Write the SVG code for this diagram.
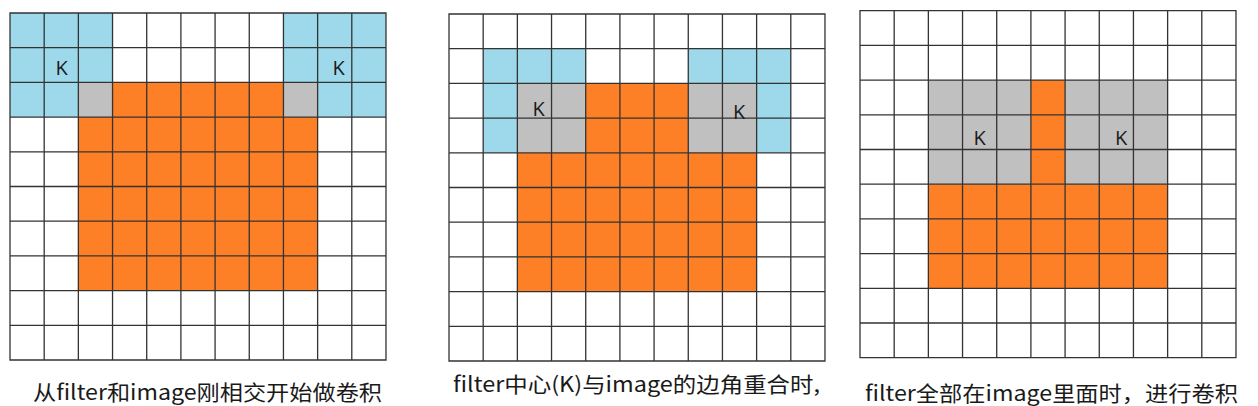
<svg xmlns="http://www.w3.org/2000/svg" xmlns:xlink="http://www.w3.org/1999/xlink" width="1258" height="406" viewBox="0 0 1258 406">
<style>
.b{fill:#9dd9ea}
.g{fill:#c0c0c0}
.o{fill:#fe8026}
.grid{fill:none;stroke:#333333;stroke-width:1.3}
.k{font-family:"Open Sans","Liberation Sans",sans-serif;font-size:20px;fill:#1a1a1a;text-anchor:middle}
.cap{font-family:"Noto Sans CJK SC","Noto Sans",sans-serif;font-size:21px;fill:#1a1a1a}
</style>
<defs>
<path id="gridlines" class="grid" d="M0,0H375.98V347H0Z
M34.18,0V347M68.36,0V347M102.54,0V347M136.72,0V347M170.9,0V347M205.08,0V347M239.26,0V347M273.44,0V347M307.62,0V347M341.8,0V347
M0,34.7H375.98M0,69.4H375.98M0,104.1H375.98M0,138.8H375.98M0,173.5H375.98M0,208.2H375.98M0,242.9H375.98M0,277.6H375.98M0,312.3H375.98"/>
</defs>
<rect width="1258" height="406" fill="#ffffff"/>

<g id="panel1" transform="translate(10,13)">
<rect x="0" y="0" width="375.98" height="347" fill="#ffffff"/>
<rect class="b" x="0" y="0" width="102.54" height="69.4"/>
<rect class="b" x="0" y="69.4" width="68.36" height="34.7"/>
<rect class="b" x="273.44" y="0" width="102.54" height="69.4"/>
<rect class="b" x="307.62" y="69.4" width="68.36" height="34.7"/>
<rect class="g" x="68.36" y="69.4" width="34.18" height="34.7"/>
<rect class="g" x="273.44" y="69.4" width="34.18" height="34.7"/>
<rect class="o" x="102.54" y="69.4" width="170.9" height="34.7"/>
<rect class="o" x="68.36" y="104.1" width="239.26" height="173.5"/>
<use xlink:href="#gridlines"/>
<text class="k" x="51.5" y="61.5">K</text>
<text class="k" x="328.5" y="61.5">K</text>
</g>

<g id="panel2" transform="translate(449,14)">
<rect x="0" y="0" width="375.98" height="347" fill="#ffffff"/>
<rect class="b" x="34.18" y="34.7" width="102.54" height="34.7"/>
<rect class="b" x="34.18" y="69.4" width="34.18" height="69.4"/>
<rect class="b" x="239.26" y="34.7" width="102.54" height="34.7"/>
<rect class="b" x="307.62" y="69.4" width="34.18" height="69.4"/>
<rect class="g" x="68.36" y="69.4" width="68.36" height="69.4"/>
<rect class="g" x="239.26" y="69.4" width="68.36" height="69.4"/>
<rect class="o" x="136.72" y="69.4" width="102.54" height="69.4"/>
<rect class="o" x="68.36" y="138.8" width="239.26" height="138.8"/>
<use xlink:href="#gridlines"/>
<text class="k" x="89.5" y="101.5">K</text>
<text class="k" x="290" y="104.5">K</text>
</g>

<g id="panel3" transform="translate(860,10.7)">
<rect x="0" y="0" width="375.98" height="347" fill="#ffffff"/>
<rect class="g" x="68.36" y="69.4" width="102.54" height="104.1"/>
<rect class="g" x="205.08" y="69.4" width="102.54" height="104.1"/>
<rect class="o" x="170.9" y="69.4" width="34.18" height="104.1"/>
<rect class="o" x="68.36" y="173.5" width="239.26" height="104.1"/>
<use xlink:href="#gridlines"/>
<text class="k" x="119.5" y="134.5">K</text>
<text class="k" x="261" y="134.5">K</text>
</g>

<g id="captions">
<text class="cap" x="33" y="400" textLength="349" lengthAdjust="spacingAndGlyphs">从filter和image刚相交开始做卷积</text>
<text class="cap" x="453" y="391.5" textLength="367" lengthAdjust="spacingAndGlyphs">filter中心(K)与image的边角重合时,</text>
<text class="cap" x="865" y="401" textLength="373" lengthAdjust="spacingAndGlyphs">filter全部在image里面时，进行卷积</text>
</g>
</svg>
